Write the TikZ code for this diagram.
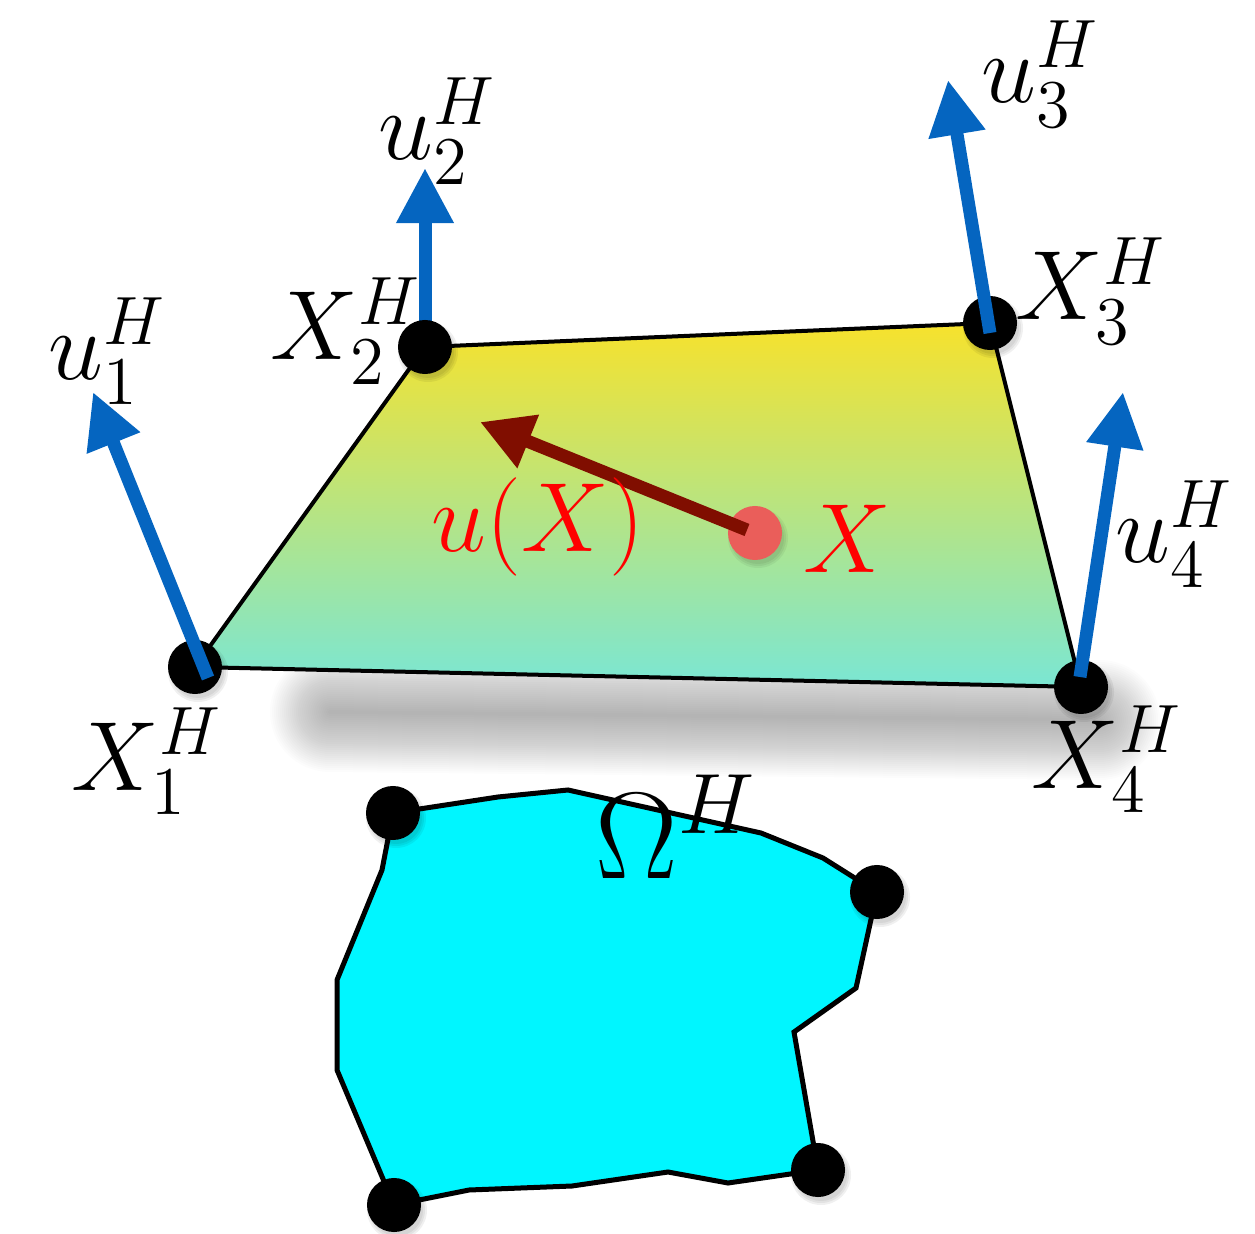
\documentclass[tikz,border=0pt]{standalone}
\usepackage{graphicx}
\usetikzlibrary{arrows.meta}
\definecolor{ublue}{RGB}{5,101,192}
\definecolor{darkred}{RGB}{128,14,0}
\definecolor{dotred}{RGB}{234,94,90}
\definecolor{topY}{RGB}{247,226,44}
\definecolor{botT}{RGB}{122,230,212}
\definecolor{omcyan}{RGB}{0,246,255}
\newcommand{\biglab}[1]{\scalebox{1.62}{$#1$}}
\newcommand{\hugelab}[1]{\scalebox{2.03}{$#1$}}
\begin{document}
\begin{tikzpicture}[x=0.01cm,y=-0.01cm,
  vdot/.style={circle,fill=black,inner sep=0pt,minimum size=0.54cm},
  rdot/.style={circle,fill=dotred,inner sep=0pt,minimum size=0.54cm},
  lbl/.style={anchor=base west,inner sep=0pt,font=\LARGE},
  barrow/.style={draw=ublue,line width=0.13cm,-{Triangle[length=0.55cm,width=0.54cm]}},
  rarrow/.style={draw=darkred,line width=0.13cm,-{Triangle[length=0.52cm,width=0.54cm]}},
  edge/.style={draw=black,line width=0.04cm,line join=round},
  omedge/.style={draw=black,line width=0.05cm,line join=miter,fill=omcyan}]
\useasboundingbox (0,0) rectangle (1255,1234);

% coordinates of element vertices
\coordinate (c1) at (195,667);
\coordinate (c2) at (425,347);
\coordinate (c3) at (990,323);
\coordinate (c4) at (1081,687);
% coordinates of domain corners
\coordinate (o1) at (393,813);
\coordinate (o2) at (877,892);
\coordinate (o3) at (818,1170);
\coordinate (o4) at (394,1205);

% soft shadow under the element
\foreach \w in {4,8,...,120}
  \draw[black,opacity=0.012,line width={\w*0.01cm},line cap=round] (330,712) -- (1100,720);

% shaded element
\shade[top color=topY,bottom color=botT] (c1) -- (c2) -- (c3) -- (c4) -- cycle;
\draw[edge] (c1) -- (c2) -- (c3) -- (c4) -- cycle;

% dot shadows
\foreach \p in {c1,c2,c3,c4}
  \foreach \r in {26,28,30}
    \fill[black,opacity=0.06] ([shift={(3,5)}]\p) circle[radius=\r];

% u2 arrow (behind its dot)
\coordinate (u2s) at (425,323);
\coordinate (u2t) at (425,168);
\draw[barrow] (u2s) -- (u2t);

% vertex dots
\node[vdot] (X1) at (c1) {};
\node[vdot] (X2) at (c2) {};
\node[vdot] (X3) at (c3) {};
\node[vdot] (X4) at (c4) {};

% nodal vectors
\coordinate (u1s) at (208,678);
\coordinate (u1t) at (93,392);
\coordinate (u3s) at (990,333);
\coordinate (u3t) at (948,80);
\coordinate (u4s) at (1080,677);
\coordinate (u4t) at (1123,392);
\draw[barrow] (u1s) -- (u1t);
\draw[barrow] (u3s) -- (u3t);
\draw[barrow] (u4s) -- (u4t);

% interior point X and u(X)
\foreach \r in {26,28,30}
  \fill[black,opacity=0.05] (758,538) circle[radius=\r];
\node[rdot] (P) at (755,533) {};
\coordinate (uXs) at (747,530);
\coordinate (uXt) at (480,422);
\draw[rarrow] (uXs) -- (uXt);

% domain Omega^H
\draw[omedge] (o1) -- (498,797) -- (568,790) -- (761,833) -- (823,858)
  -- (o2) -- (856,988) -- (794,1032) -- (o3) -- (728,1183)
  -- (668,1172) -- (572,1186) -- (469,1190) -- (o4) -- (337,1070)
  -- (337,980) -- (382,870) -- cycle;
\foreach \p in {o1,o2,o3,o4}
  \foreach \r in {26,28,30}
    \fill[black,opacity=0.06] ([shift={(3,5)}]\p) circle[radius=\r];
\node[vdot] (O1) at (o1) {};
\node[vdot] (O2) at (o2) {};
\node[vdot] (O3) at (o3) {};
\node[vdot] (O4) at (o4) {};

% labels
\node[lbl] (lu1) at (48,380) {\biglab{u_1^H}};
\node[lbl] (lu2) at (378,160) {\biglab{u_2^H}};
\node[lbl] (lu3) at (981,103) {\biglab{u_3^H}};
\node[lbl] (lu4) at (1115,563) {\biglab{u_4^H}};
\node[lbl] (lX1) at (71,790) {\biglab{X_1^H}};
\node[lbl] (lX2) at (270,360) {\biglab{X_2^H}};
\node[lbl] (lX3) at (1015,320) {\biglab{X_3^H}};
\node[lbl] (lX4) at (1031,788) {\biglab{X_4^H}};
\node[lbl,text=red] (luX) at (431,551) {\biglab{u(X)}};
\node[lbl,text=red] (lX) at (803,573) {\biglab{X}};
\node[lbl] (lOm) at (595,878) {\hugelab{\Omega^H}};
\end{tikzpicture}
\end{document}
